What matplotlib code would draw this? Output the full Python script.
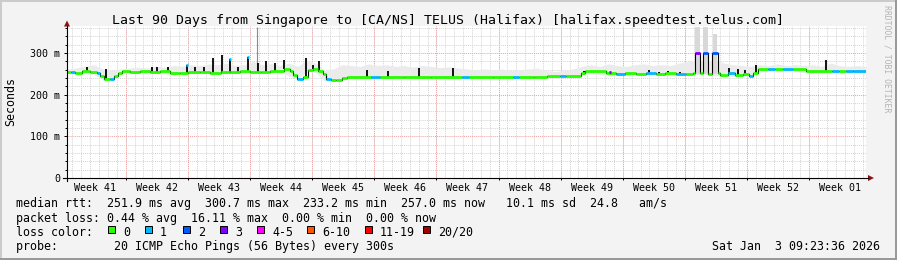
import numpy as np
import matplotlib.pyplot as plt
from matplotlib.patches import Rectangle, Polygon

plt.rcParams['font.family'] = ['DejaVu Sans Mono']

title = "Last 90 Days from Singapore to [CA/NS] TELUS (Halifax) [halifax.speedtest.telus.com]"
week_labels = ["Week 41", "Week 42", "Week 43", "Week 44", "Week 45", "Week 46", "Week 47",
               "Week 48", "Week 49", "Week 50", "Week 51", "Week 52", "Week 01"]
first_midnight = 0.609   # start is Sun Oct 5 09:23, days counted from there
first_sunday = 6.609

loss_labels = ["0", "1", "2", "3", "4-5", "6-10", "11-19", "20/20"]
loss_colors = ["#26ff00", "#00b8ff", "#0059ff", "#7e00ff", "#ff00ff", "#ff5500", "#ff0000", "#a10000"]

# median rtt as steps: start day, ms, loss bucket
med_day = [0.0, 0.4, 0.9, 1.7, 2.6, 3.4, 3.7, 4.2, 4.8, 5.3,
           5.75, 6.2, 7.1, 8.2, 9.4, 10.5, 11.6, 12.7, 13.6, 15.0,
           16.1, 17.3, 18.4, 19.5, 20.6, 21.8, 22.9, 24.4, 25.1, 25.5,
           25.9, 26.6, 27.1, 27.7, 28.3, 28.8, 29.2, 29.7, 30.3, 31.0,
           31.5, 34.2, 35.3, 38.0, 41.0, 44.5, 45.3, 48.0, 50.2, 50.9,
           52.6, 54.1, 55.5, 56.2, 57.9, 58.3, 60.7, 61.8, 62.9, 64.1,
           65.2, 66.3, 67.4, 68.6, 69.7, 70.5, 70.7, 71.3, 71.6, 72.2,
           72.7, 73.3, 73.6, 74.5, 75.3, 76.1, 76.8, 77.3, 77.8, 79.0,
           79.8, 80.6, 81.8, 83.2, 86.2, 87.0, 87.8, 88.5, 90.0]
med_ms = [255, 254, 253, 256, 254, 252, 244, 237, 238, 245,
          252, 257, 255, 256, 254, 256, 253, 251, 254, 255,
          253, 255, 254, 256, 254, 255, 256, 262, 258, 248,
          238, 242, 260, 262, 258, 250, 238, 235, 236, 240,
          243, 243, 243, 242, 243, 243, 243, 243, 243, 243,
          243, 246, 246, 246, 252, 256, 252, 250, 252, 249,
          252, 250, 253, 250, 249, 252, 299, 252, 299, 250,
          299, 252, 248, 251, 247, 250, 246, 252, 262, 262,
          262, 262, 262, 256, 256, 256, 256, 256, 256]
med_loss = [0, 1, 0, 0, 0, 1, 0, 0, 1, 0,
            0, 0, 0, 0, 0, 0, 0, 0, 0, 0,
            0, 0, 0, 0, 0, 0, 0, 0, 0, 0,
            1, 0, 0, 0, 0, 0, 1, 0, 0, 0,
            0, 1, 0, 0, 0, 1, 0, 0, 1, 0,
            0, 0, 1, 0, 0, 0, 0, 1, 0, 0,
            1, 0, 0, 1, 0, 0, 3, 0, 2, 0,
            2, 0, 0, 1, 0, 0, 1, 0, 0, 1,
            0, 1, 0, 0, 1, 0, 1, 1, 1]

# short black spikes of the median
spike_day = [2.25, 4.4, 9.6, 10.15, 11.4, 13.5, 14.4, 15.45, 16.45, 17.5,
             18.4, 19.3, 20.4, 21.55, 22.45, 23.45, 24.45, 26.95, 27.75, 28.4,
             33.8, 36.2, 39.7, 43.5, 58.2, 61.2, 65.6, 66.65, 67.7, 69.1,
             74.55, 75.55, 76.35, 77.6, 85.5]
spike_ms = [267, 262, 266, 266, 267, 271, 266, 266, 288, 296,
            285, 267, 290, 276, 282, 276, 283, 287, 271, 282,
            259, 256, 263, 263, 256, 254, 259, 255, 256, 255,
            263, 261, 259, 271, 283]
spike_cap = [-1, -1, -1, -1, -1, 1, -1, -1, -1, -1,
             1, -1, 1, -1, -1, -1, -1, -1, -1, -1,
             -1, -1, -1, -1, -1, 3, -1, -1, -1, -1,
             -1, -1, -1, -1, -1]

# smoke, one value per day (day 0 .. 90)
smoke_hi = [262, 264, 268, 272, 262, 258, 262, 264, 266, 264,
            268, 266, 270, 268, 272, 270, 274, 272, 276, 270,
            272, 280, 272, 275, 270, 276, 268, 282, 276, 260,
            262, 272, 270, 268, 274, 270, 272, 268, 270, 266,
            270, 268, 265, 267, 264, 262, 260, 262, 260, 262,
            258, 260, 262, 264, 258, 256, 258, 262, 268, 272,
            268, 274, 270, 268, 272, 274, 270, 272, 270, 276,
            280, 282, 280, 285, 276, 272, 270, 268, 272, 270,
            274, 270, 272, 270, 272, 268, 276, 270, 268, 270, 268]
smoke_lo = [251, 250, 251, 249, 236, 236, 250, 252, 252, 251,
            252, 250, 248, 250, 252, 251, 251, 252, 251, 252,
            251, 252, 252, 252, 256, 245, 237, 256, 254, 233,
            232, 238, 240, 240, 240, 240, 239, 239, 240, 240,
            240, 240, 240, 240, 240, 240, 240, 240, 240, 240,
            240, 240, 240, 240, 243, 243, 243, 243, 248, 250,
            248, 247, 248, 246, 248, 247, 248, 247, 246, 247,
            248, 248, 248, 246, 245, 244, 244, 245, 257, 257,
            257, 257, 257, 253, 252, 252, 252, 252, 252, 252, 252]

# tall smoke around the three humps in week 51
col_start = [70.7, 71.65, 72.75]
col_end = [71.25, 72.15, 73.25]
col_top = [362, 362, 345]
hair_day = [21.4]
hair_ms = [362]

stats_lines = [
    "median rtt:  251.9 ms avg  300.7 ms max  233.2 ms min  257.0 ms now   10.1 ms sd  24.8   am/s",
    "packet loss: 0.44 % avg  16.11 % max  0.00 % min  0.00 % now",
]
probe_text = "probe:        20 ICMP Echo Pings (56 Bytes) every 300s"
date_text = "Sat Jan  3 09:23:36 2026"

W, H = 897, 260
fig = plt.figure(figsize=(W / 100, H / 100), dpi=100, facecolor="#f3f3f3")
ax = fig.add_axes([67 / W, 82 / H, 799 / W, 152 / H])
ax.set_xlim(0, 90)
ax.set_ylim(0, 365)
ax.set_facecolor("white")
for s in ax.spines.values():
    s.set_visible(False)

# grid
dots = (0, (1, 1))
days = np.arange(first_midnight, 90, 1.0)
sundays = np.arange(first_sunday, 90, 7.0)
ax.vlines(days, 0, 365, colors="#d4d4d4", linestyles=[dots], lw=0.7, zorder=1)
ax.vlines(sundays, 0, 365, colors="#f0a0a0", linestyles=[dots], lw=0.7, zorder=1)
ax.hlines([y for y in range(20, 365, 20) if y % 100], 0, 90, colors="#d4d4d4",
          linestyles=[dots], lw=0.7, zorder=1)
ax.hlines([100, 200, 300], 0, 90, colors="#f0a0a0", linestyles=[dots], lw=0.7, zorder=1)

# smoke
ax.fill_between(np.arange(len(smoke_hi)), smoke_lo, smoke_hi, color="#ebebeb", lw=0, zorder=2)
ax.bar(col_start, np.subtract(col_top, 250), width=np.subtract(col_end, col_start),
       bottom=250, align="edge", color="#d8d8d8", lw=0, zorder=2)
hair_base = [med_ms[np.searchsorted(med_day, d, side="right") - 1] for d in hair_day]
ax.vlines(hair_day, hair_base, hair_ms, colors="#8a8a8a", lw=0.8, zorder=3)

# median
ax.step(med_day, med_ms, where="post", color="black", lw=0.8, zorder=4)
for i in range(len(med_day) - 1):
    ax.hlines(med_ms[i], med_day[i], med_day[i + 1], colors=loss_colors[med_loss[i]],
              lw=2.0, zorder=5)
spike_base = [med_ms[np.searchsorted(med_day, d, side="right") - 1] for d in spike_day]
ax.vlines(spike_day, spike_base, spike_ms, colors="black", lw=1.3, zorder=4)
for d, top, c in zip(spike_day, spike_ms, spike_cap):
    if c >= 0:
        ax.hlines(top, d - 0.12, d + 0.12, colors=loss_colors[c], lw=2.0, zorder=6)

# ticks
ax.set_yticks([0, 100, 200, 300], ["0", "100 m", "200 m", "300 m"])
ax.set_yticks(np.arange(20, 365, 20), minor=True)
ax.tick_params(axis="y", which="major", length=2.2, width=0.7, labelsize=7.2, pad=2.9)
ax.tick_params(axis="y", which="minor", length=1.4, width=0.7)
ax.set_xticks(sundays, [""] * len(sundays))
ax.tick_params(axis="x", which="major", length=1.6, width=0.7)
for k, lab in enumerate(week_labels):
    ax.text(first_sunday - 3.5 + 7 * k, -12.7 / 152, lab, transform=ax.get_xaxis_transform(),
            ha="center", va="baseline", fontsize=7.2)

# overlay in pixel coordinates
oax = fig.add_axes([0, 0, 1, 1], facecolor="none")
oax.set_xlim(0, W)
oax.set_ylim(H, 0)
oax.axis("off")

oax.plot([63, 868], [178, 178], color="black", lw=0.8)
oax.plot([67, 67], [181, 26], color="black", lw=0.8)
oax.add_patch(Polygon([(64, 26.5), (70, 26.5), (67, 20.5)], closed=True, color="#901010", lw=0))
oax.add_patch(Polygon([(868, 175), (868, 181), (874, 178)], closed=True, color="#901010", lw=0))

# border
oax.add_patch(Rectangle((0, 0), W, 2, color="#cbcbcb", lw=0))
oax.add_patch(Rectangle((0, 0), 2, H, color="#cbcbcb", lw=0))
oax.add_patch(Rectangle((0, H - 2), W, 2, color="#999999", lw=0))
oax.add_patch(Rectangle((W - 2, 0), 2, H, color="#999999", lw=0))

oax.text(448, 24, title, ha="center", va="baseline", fontsize=9.5)
oax.text(10.5, 102, "Seconds", rotation=90, ha="center", va="center", fontsize=8.4)
oax.text(887, 59, "RRDTOOL / TOBI OETIKER", rotation=-90, ha="center", va="center",
         fontsize=5.9, color="#b4b4b4")

for k, line in enumerate(stats_lines):
    oax.text(16, 207.5 + 14.2 * k, line, ha="left", va="baseline", fontsize=8.4)
oax.text(16, 235.5, "loss color:", ha="left", va="baseline", fontsize=8.4)
box_x = [108, 145, 183, 220, 257, 307, 365, 423]
for bx, lab, col in zip(box_x, loss_labels, loss_colors):
    oax.add_patch(Rectangle((bx, 226), 7, 7, facecolor=col, edgecolor="black", lw=0.7))
    oax.text(bx + 15, 235.5, lab, ha="left", va="baseline", fontsize=8.4)
oax.text(16, 250, probe_text, ha="left", va="baseline", fontsize=8.4)
oax.text(880, 250, date_text, ha="right", va="baseline", fontsize=8.4)

fig.savefig("out.png", dpi=100, facecolor=fig.get_facecolor())
